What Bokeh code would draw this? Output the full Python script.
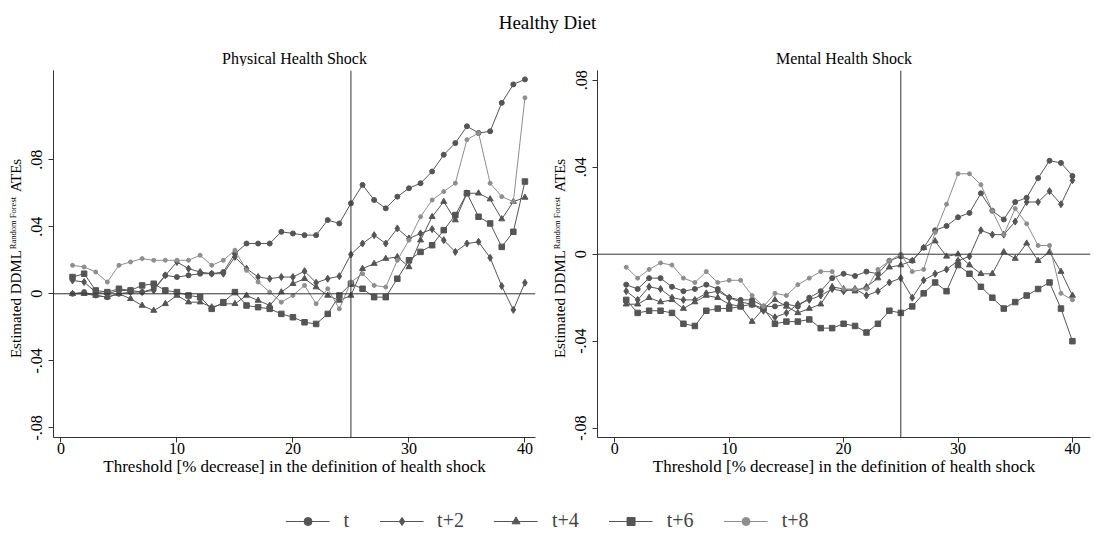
import math
from bokeh.plotting import figure
from bokeh.models import Range1d, Label, Span, Legend, LegendItem, FixedTicker
from bokeh.layouts import column, row
from bokeh.embed import file_html
from bokeh.resources import INLINE

# ---------------- data ----------------
thresholds = list(range(1, 41))
series_names = ["t", "t+2", "t+4", "t+6", "t+8"]

phys_t = [0.000, 0.001, -0.001, -0.002, 0.000, 0.001, 0.001, 0.003, 0.011, 0.010,
          0.011, 0.012, 0.012, 0.013, 0.024, 0.030, 0.030, 0.030, 0.037, 0.036,
          0.035, 0.035, 0.044, 0.042, 0.054, 0.065, 0.056, 0.051, 0.058, 0.063,
          0.066, 0.073, 0.083, 0.090, 0.100, 0.096, 0.097, 0.114, 0.125, 0.128]
phys_t2 = [0.008, 0.007, 0.001, 0.000, 0.002, 0.002, 0.001, 0.002, 0.011, 0.019,
           0.015, 0.013, 0.012, 0.012, 0.022, 0.015, 0.010, 0.009, 0.010, 0.010,
           0.0135, 0.0066, 0.009, 0.0105, 0.0235, 0.030, 0.035, 0.030, 0.039, 0.033,
           0.036, 0.0386, 0.032, 0.025, 0.030, 0.031, 0.0215, 0.0046, -0.0096, 0.0066]
phys_t4 = [0.000, 0.000, -0.001, -0.002, 0.000, -0.003, -0.007, -0.010, -0.006, -0.001,
           -0.005, -0.005, -0.008, -0.006, -0.006, -0.001, -0.004, -0.007, 0.001, 0.006,
           0.009, 0.004, -0.001, -0.004, -0.001, 0.015, 0.018, 0.021, 0.022, 0.016,
           0.032, 0.046, 0.055, 0.044, 0.060, 0.060, 0.0565, 0.0446, 0.055, 0.0575]
phys_t6 = [0.010, 0.012, 0.002, 0.001, 0.003, 0.002, 0.005, 0.006, 0.002, 0.001,
           -0.001, -0.002, -0.009, -0.005, 0.001, -0.007, -0.008, -0.009, -0.012, -0.014,
           -0.017, -0.018, -0.012, -0.001, 0.006, 0.003, -0.002, -0.002, 0.009, 0.020,
           0.025, 0.029, 0.038, 0.047, 0.060, 0.046, 0.042, 0.028, 0.037, 0.067]
phys_t8 = [0.017, 0.016, 0.013, 0.007, 0.017, 0.019, 0.021, 0.020, 0.020, 0.020,
           0.020, 0.023, 0.017, 0.020, 0.026, 0.014, 0.007, 0.001, -0.005, -0.001,
           0.005, -0.006, 0.003, -0.009, 0.007, 0.012, 0.005, 0.004, 0.020, 0.032,
           0.046, 0.056, 0.061, 0.066, 0.092, 0.096, 0.066, 0.058, 0.055, 0.117]

ment_t = [-0.014, -0.016, -0.011, -0.011, -0.015, -0.017, -0.016, -0.014, -0.016, -0.020,
          -0.021, -0.021, -0.024, -0.024, -0.023, -0.024, -0.020, -0.017, -0.011, -0.009,
          -0.010, -0.008, -0.009, -0.003, -0.001, -0.003, 0.003, 0.011, 0.013, 0.017,
          0.019, 0.028, 0.020, 0.016, 0.024, 0.026, 0.035, 0.043, 0.042, 0.036]
ment_t2 = [-0.017, -0.021, -0.015, -0.016, -0.020, -0.021, -0.021, -0.018, -0.017, -0.020,
           -0.022, -0.023, -0.026, -0.029, -0.027, -0.023, -0.021, -0.019, -0.016, -0.017,
           -0.016, -0.019, -0.017, -0.013, -0.011, -0.020, -0.012, -0.009, -0.007, -0.003,
           -0.001, 0.011, 0.009, 0.009, 0.015, 0.024, 0.024, 0.029, 0.023, 0.034]
ment_t4 = [-0.023, -0.023, -0.020, -0.022, -0.021, -0.025, -0.022, -0.019, -0.020, -0.023,
           -0.024, -0.031, -0.025, -0.021, -0.024, -0.027, -0.025, -0.023, -0.015, -0.016,
           -0.017, -0.015, -0.011, -0.006, -0.005, -0.003, 0.003, 0.006, -0.001, 0.000,
           -0.005, -0.009, -0.009, 0.001, -0.002, 0.005, -0.003, 0.001, -0.008, -0.019]
ment_t6 = [-0.021, -0.027, -0.026, -0.026, -0.027, -0.032, -0.033, -0.026, -0.025, -0.025,
           -0.024, -0.023, -0.025, -0.032, -0.031, -0.031, -0.030, -0.034, -0.034, -0.032,
           -0.033, -0.036, -0.032, -0.026, -0.027, -0.024, -0.018, -0.013, -0.017, -0.005,
           -0.009, -0.015, -0.020, -0.025, -0.022, -0.019, -0.016, -0.013, -0.025, -0.040]
ment_t8 = [-0.006, -0.011, -0.007, -0.004, -0.005, -0.011, -0.013, -0.008, -0.013, -0.012,
           -0.012, -0.019, -0.024, -0.018, -0.019, -0.014, -0.011, -0.008, -0.008, -0.016,
           -0.016, -0.016, -0.007, -0.003, 0.000, -0.008, -0.007, 0.010, 0.023, 0.037,
           0.037, 0.032, 0.020, 0.009, 0.021, 0.014, 0.004, 0.004, -0.018, -0.021]

y_ticks = [-0.08, -0.04, 0, 0.04, 0.08]
y_tick_labels = ["-.08", "-.04", "0", ".04", ".08"]
x_ticks = [0, 10, 20, 30, 40]
shock_cutoff = 25

main_title = "Healthy Diet"
panel_titles = ["Physical Health Shock", "Mental Health Shock"]
x_title = "Threshold [% decrease] in the definition of health shock"
y_title_parts = ["Estimated DDML", "Random Forest", "ATEs"]

# ---------------- style ----------------
FONT = "Liberation Serif"
DARK = "#555555"
GREY = "#8e8e8e"
AXIS = "#333333"
styles = {
    "t":   dict(marker="circle", size=5, color=DARK),
    "t+2": dict(marker="diamond", size=7, color=DARK),
    "t+4": dict(marker="triangle", size=6, color=DARK),
    "t+6": dict(marker="square", size=5.5, color=DARK),
    "t+8": dict(marker="circle", size=4, color=GREY),
}

HEADER_H = 66
ROW_H = 439
LEG_H = 30
TOP_B = 4
BOT_B = 68
FRAME_H = ROW_H - TOP_B - BOT_B


def bare(fig):
    fig.outline_line_color = None
    fig.grid.visible = False
    return fig


def make_panel(data, width, mb_left, mb_right, xr, yr):
    p = figure(width=width, height=ROW_H, x_range=Range1d(*xr), y_range=Range1d(*yr),
               output_backend="svg", toolbar_location=None,
               min_border_left=mb_left, min_border_right=mb_right,
               min_border_top=TOP_B, min_border_bottom=BOT_B)
    bare(p)
    p.xaxis.ticker = FixedTicker(ticks=x_ticks)
    p.yaxis.ticker = FixedTicker(ticks=y_ticks)
    p.yaxis.major_label_overrides = {v: s for v, s in zip(y_ticks, y_tick_labels)}
    p.yaxis.major_label_orientation = "vertical"
    p.xaxis.axis_label = x_title
    for ax in (p.xaxis[0], p.yaxis[0]):
        ax.axis_line_color = AXIS
        ax.major_tick_line_color = AXIS
        ax.major_tick_out = 5
        ax.major_tick_in = 0
        ax.minor_tick_line_color = None
        ax.major_label_text_font = FONT
        ax.major_label_text_font_size = "16px"
        ax.major_label_text_color = "black"
        ax.axis_label_text_font = FONT
        ax.axis_label_text_font_size = "17px"
        ax.axis_label_text_font_style = "normal"
        ax.axis_label_text_color = "black"
    p.xaxis.major_label_standoff = 0
    p.xaxis.axis_label_standoff = 0
    p.yaxis.major_label_standoff = 6

    for name, vals in zip(series_names, data):
        st = styles[name]
        p.line(thresholds, vals, line_color=st["color"], line_width=1)
        p.scatter(thresholds, vals, marker=st["marker"], size=st["size"],
                  fill_color=st["color"], line_color=st["color"])

    p.add_layout(Span(location=0, dimension="width", line_color=AXIS, line_width=1))
    p.add_layout(Span(location=shock_cutoff, dimension="height", line_color=AXIS, line_width=1))
    return p


def make_ytitle(width, main_x, sup_x):
    """Narrow figure (frame aligned with the panels) holding the rotated y title."""
    f = figure(width=width, height=ROW_H, x_range=Range1d(0, width), y_range=Range1d(0, FRAME_H),
               output_backend="svg", toolbar_location=None,
               min_border_left=0, min_border_right=0,
               min_border_top=TOP_B, min_border_bottom=BOT_B,
               x_axis_location=None, y_axis_location=None)
    bare(f)
    main_fs, sup_fs = 15, 8.5
    w_main = 7.194 * main_fs
    w_sup = 6.139 * sup_fs
    w_end = 2.333 * main_fs
    gap1, gap2 = 1.0, 4.0
    total = w_main + gap1 + w_sup + gap2 + w_end
    start = FRAME_H / 2 - 4 - total / 2
    pieces = [
        (y_title_parts[0], main_fs, main_x, start + w_main / 2),
        (y_title_parts[1], sup_fs, sup_x, start + w_main + gap1 + w_sup / 2),
        (y_title_parts[2], main_fs, main_x, start + w_main + gap1 + w_sup + gap2 + w_end / 2),
    ]
    for txt, fs, xc, yc in pieces:
        f.add_layout(Label(x=xc, y=yc, text=txt, angle=math.pi / 2,
                           text_align="center", text_baseline="middle",
                           text_font=FONT, text_font_size=f"{fs}px", text_color="black"))
    return f


p1 = make_panel([phys_t, phys_t2, phys_t4, phys_t6, phys_t8],
                width=521, mb_left=29, mb_right=10,
                xr=(-0.64, 40.91), yr=(-0.0858, 0.1333))
p2 = make_panel([ment_t, ment_t2, ment_t4, ment_t6, ment_t8],
                width=526, mb_left=29, mb_right=4,
                xr=(-1.51, 41.58), yr=(-0.0843, 0.0845))
yt1 = make_ytitle(24, 15.0, 12.5)
yt2 = make_ytitle(23, 14.0, 11.5)

# header figure: main title and panel subtitles
hf = figure(width=1094, height=HEADER_H, x_range=Range1d(0, 1094), y_range=Range1d(0, HEADER_H),
            output_backend="svg", toolbar_location=None, min_border=0,
            x_axis_location=None, y_axis_location=None)
bare(hf)
hf.add_layout(Label(x=547, y=HEADER_H - 22, text=main_title, text_align="center",
                    text_baseline="middle", text_font=FONT, text_font_size="19px",
                    text_color="black"))
for txt, cx in zip(panel_titles, [294, 843.5]):
    hf.add_layout(Label(x=cx, y=HEADER_H - 58, text=txt, text_align="center",
                        text_baseline="middle", text_font=FONT, text_font_size="16px",
                        text_color="black"))

# legend figure (proxy renderers drawn outside its visible range)
lf = figure(width=1094, height=LEG_H, x_range=Range1d(-200, -199), y_range=Range1d(0, 1),
            output_backend="svg", toolbar_location=None, min_border=0,
            x_axis_location=None, y_axis_location=None)
bare(lf)
items = []
for name, vals in zip(series_names, [phys_t, phys_t2, phys_t4, phys_t6, phys_t8]):
    st = styles[name]
    r1 = lf.line(thresholds, vals, line_color=st["color"], line_width=1)
    r2 = lf.scatter(thresholds, vals, marker=st["marker"], size=st["size"],
                    fill_color=st["color"], line_color=st["color"])
    items.append(LegendItem(label=name, renderers=[r1, r2]))
legend = Legend(items=items, orientation="horizontal", location="bottom_center",
                glyph_width=44, glyph_height=20, label_standoff=14, spacing=30,
                padding=0, margin=3, border_line_color=None, background_fill_alpha=0,
                label_text_font=FONT, label_text_font_size="20px", label_width=1,
                label_height=20)
lf.add_layout(legend, "center")

layout = column(hf, row(yt1, p1, yt2, p2), lf)
open("out.html", "w").write(file_html(layout, INLINE))
